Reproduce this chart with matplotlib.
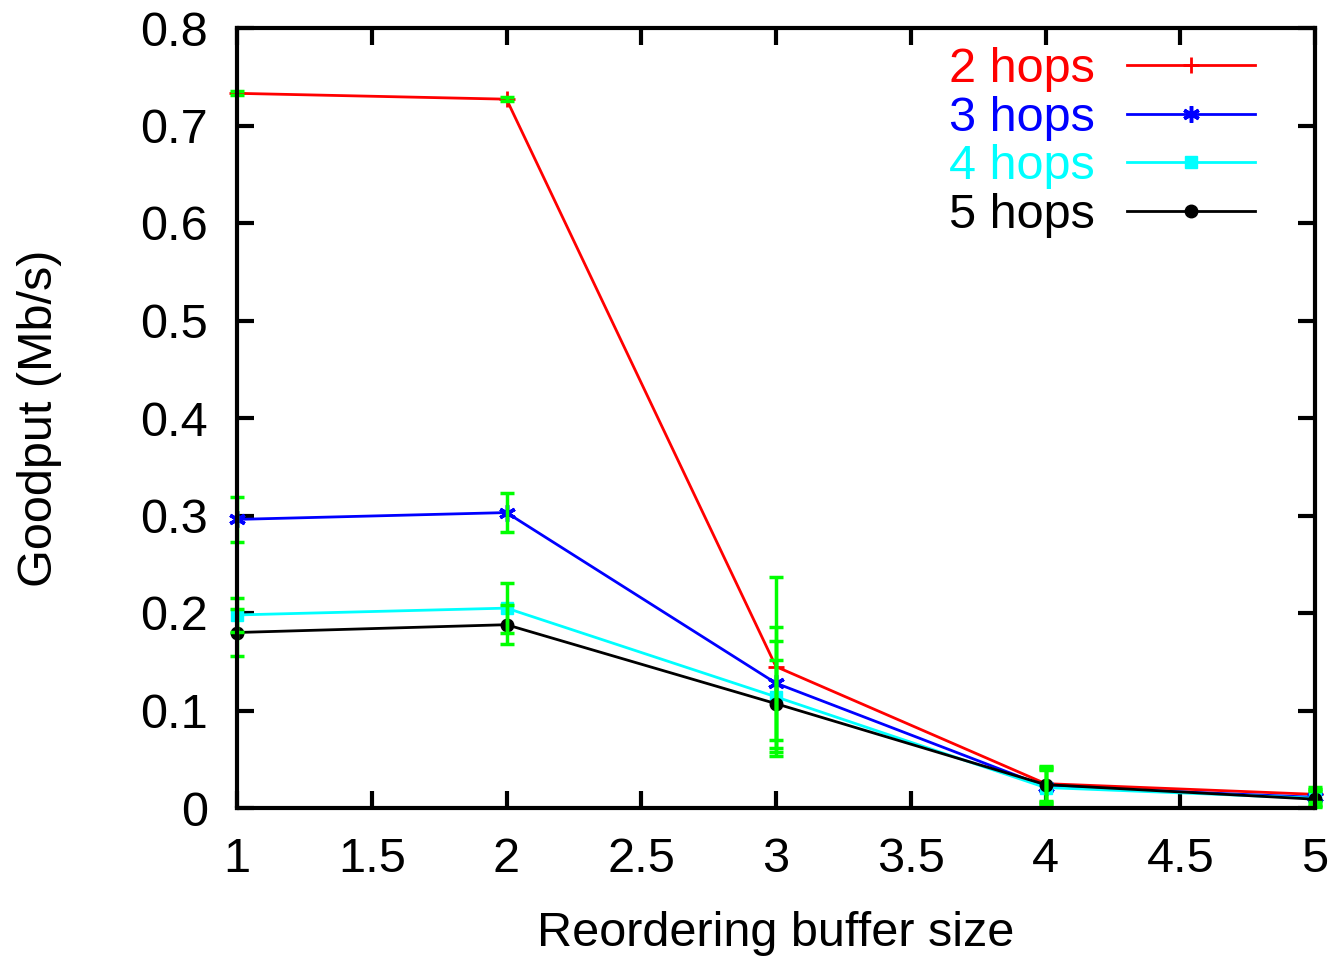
import matplotlib
matplotlib.use("Agg")
import matplotlib.pyplot as plt

plt.rcParams['font.family'] = ['Liberation Sans', 'DejaVu Sans']

buf = [1, 2, 3, 4, 5]

names = ["2 hops", "3 hops", "4 hops", "5 hops"]
clrs = ['#ff0000', '#0000ff', '#00ffff', '#000000']
marks = ['+', (6, 2, 0), 's', 'o']
msizes = [11, 12, 9, 9]
mews = [2, 2.5, 1, 1]

goodput = [
    [0.733, 0.727, 0.145, 0.025, 0.014],
    [0.296, 0.303, 0.128, 0.022, 0.011],
    [0.198, 0.205, 0.114, 0.021, 0.010],
    [0.180, 0.188, 0.107, 0.024, 0.009],
]
err = [
    [0.002, 0.002, 0.092, 0.018, 0.008],
    [0.023, 0.020, 0.058, 0.018, 0.008],
    [0.017, 0.026, 0.057, 0.018, 0.008],
    [0.024, 0.020, 0.045, 0.018, 0.008],
]

fig = plt.figure(figsize=(13.38, 9.59), dpi=100)
ax = fig.add_axes([237 / 1338, 1 - 808 / 959, (1315 - 237) / 1338, (808 - 28) / 959])

for i in range(4):
    ax.plot(buf, goodput[i], color=clrs[i], lw=2, marker=marks[i],
            markersize=msizes[i], markeredgewidth=mews[i], label=names[i],
            zorder=3, clip_on=False)

for i in range(4):
    eb = ax.errorbar(buf, goodput[i], yerr=err[i], fmt='none', ecolor='#00ff00',
                     elinewidth=2.5, capsize=5, capthick=2.5, zorder=4)
    for a in eb.lines[1] + eb.lines[2]:
        a.set_clip_on(False)

ax.set_xlim(1, 5)
ax.set_ylim(0, 0.8)
ax.set_xticks([1, 1.5, 2, 2.5, 3, 3.5, 4, 4.5, 5])
ax.set_xticklabels(["1", "1.5", "2", "2.5", "3", "3.5", "4", "4.5", "5"])
ax.set_yticks([0, 0.1, 0.2, 0.3, 0.4, 0.5, 0.6, 0.7, 0.8])
ax.set_yticklabels(["0", "0.1", "0.2", "0.3", "0.4", "0.5", "0.6", "0.7", "0.8"])
ax.tick_params(direction='in', length=12, width=3, labelsize=35, top=True, right=True, pad=21)
for s in ax.spines.values():
    s.set_linewidth(3)
    s.set_zorder(5)

ax.set_xlabel("Reordering buffer size", fontsize=35, labelpad=21)
ax.set_ylabel("Goodput (Mb/s)", fontsize=35, labelpad=56)

leg = ax.legend(loc='upper right', markerfirst=False, frameon=False, fontsize=35,
                handlelength=2.63, labelspacing=0.08, handletextpad=0.66,
                borderpad=0, borderaxespad=0, bbox_to_anchor=(0.944, 0.976))
for t, c in zip(leg.get_texts(), clrs):
    t.set_color(c)

plt.savefig("out.png", dpi=100)
